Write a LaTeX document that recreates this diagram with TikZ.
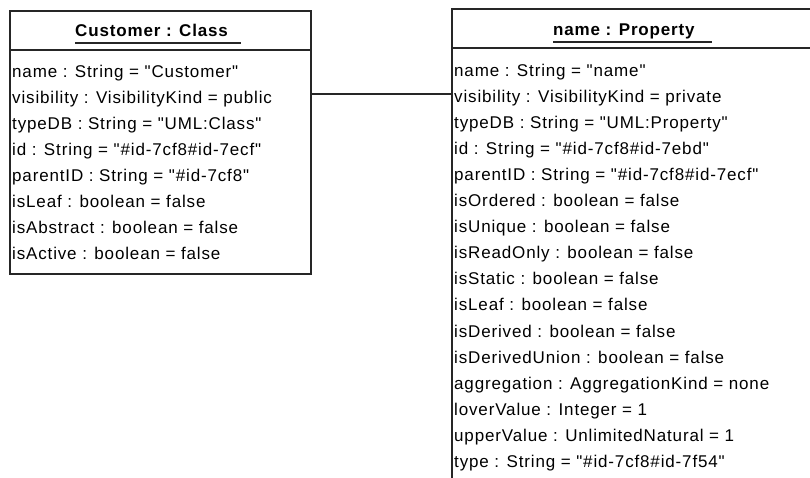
\documentclass[tikz,border=0pt]{standalone}
\usepackage{fontspec}
\setmainfont{Liberation Sans}[LetterSpace=5,Ligatures=TeXOff]
\begin{document}
\begin{tikzpicture}[x=1pt,y=-1pt,
  umlbox/.style={draw=black!85,line width=1.6pt,fill=white,anchor=north west,inner sep=0pt},
  rule/.style={draw=black!85,line width=1.6pt},
  titletext/.style={anchor=base west,inner sep=0pt,font=\fontsize{17}{20}\selectfont\bfseries},
  attr/.style={anchor=base west,inner sep=0pt,font=\fontsize{17}{20}\selectfont},
  link/.style={draw=black!85,line width=1.2pt}]
  \useasboundingbox[fill=white] (0,0) rectangle (810,477);
  \clip (0,0) rectangle (810,477);

  % instance boxes
  \node[umlbox,minimum width=301pt,minimum height=263pt] (cls) at (9,10) {};
  \node[umlbox,minimum width=372pt,minimum height=490pt] (prop) at (451,8) {};

  % header separators
  \draw[rule] ([yshift=-40pt]cls.north west) -- ([yshift=-40pt]cls.north east);
  \draw[rule] ([yshift=-40pt]prop.north west) -- ([yshift=-40pt]prop.north east);

  % underlined instance titles
  \node[titletext] (clsname) at (75,36) {Customer : Class};
  \draw[line width=1.3pt,black!85] ([yshift=-7pt]clsname.base west) -- ([yshift=-7pt,xshift=13pt]clsname.base east);
  \node[titletext] (propname) at (553,35) {name : Property};
  \draw[line width=1.3pt,black!85] ([yshift=-7pt]propname.base west) -- ([yshift=-7pt,xshift=17pt]propname.base east);

  % slot values of the class instance
  \foreach \t [count=\i] in {
    name : String = "Customer",
    visibility : VisibilityKind = public,
    typeDB : String = "UML:Class",
    id : String = "\#id-7cf8\#id-7ecf",
    parentID : String = "\#id-7cf8",
    isLeaf : boolean = false,
    isAbstract : boolean = false,
    isActive : boolean = false}
    \node[attr] (c\i) at (12,{77+26.1*(\i-1)}) {\t};

  % slot values of the property instance
  \foreach \t [count=\i] in {
    name : String = "name",
    visibility : VisibilityKind = private,
    typeDB : String = "UML:Property",
    id : String = "\#id-7cf8\#id-7ebd",
    parentID : String = "\#id-7cf8\#id-7ecf",
    isOrdered : boolean = false,
    isUnique : boolean = false,
    isReadOnly : boolean = false,
    isStatic : boolean = false,
    isLeaf : boolean = false,
    isDerived : boolean = false,
    isDerivedUnion : boolean = false,
    aggregation : AggregationKind = none,
    loverValue : Integer = 1,
    upperValue : UnlimitedNatural = 1,
    type : String = "\#id-7cf8\#id-7f54"}
    \node[attr] (p\i) at (454,{76+26.1*(\i-1)}) {\t};

  % link between the two instances
  \coordinate (linky) at (0,94);
  \draw[link] (cls.east |- linky) -- (prop.west |- linky);
\end{tikzpicture}
\end{document}
